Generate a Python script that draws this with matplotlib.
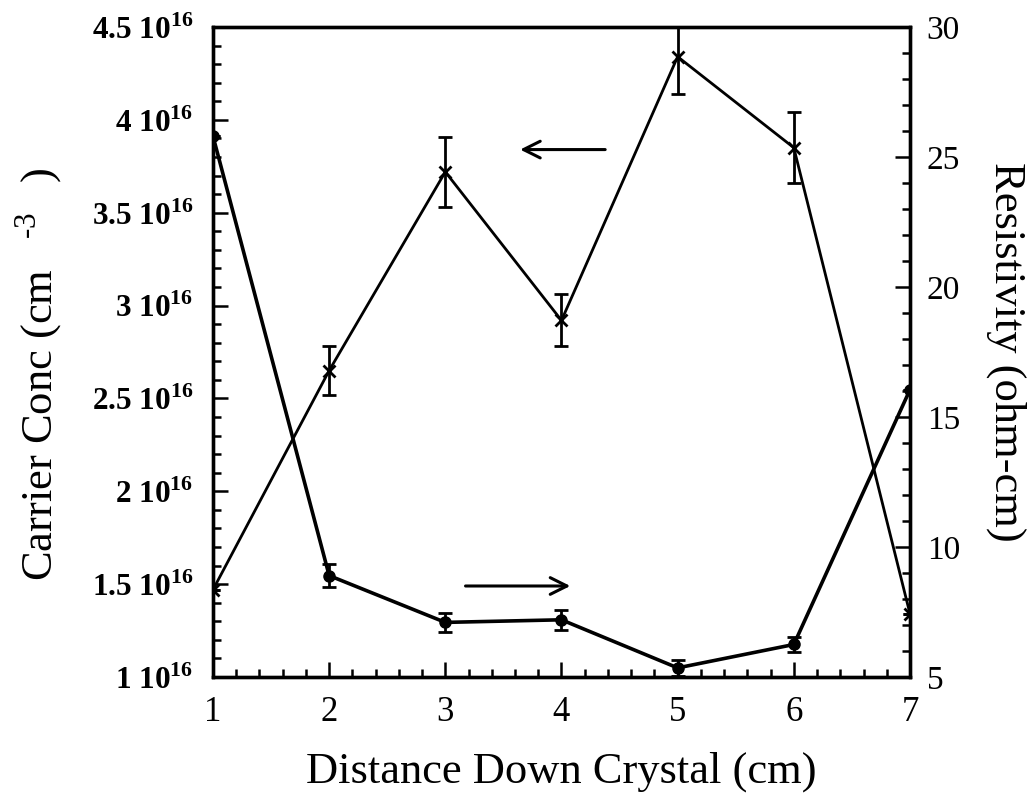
import matplotlib
matplotlib.use("Agg")
import matplotlib.pyplot as plt
from matplotlib.ticker import MultipleLocator, FixedLocator

plt.rcParams['font.family'] = ['Liberation Serif', 'DejaVu Serif']
plt.rcParams['mathtext.fontset'] = 'custom'
plt.rcParams['mathtext.rm'] = 'Liberation Serif'
plt.rcParams['mathtext.bf'] = 'Liberation Serif:bold'

# Measurements along the crystal
distance = [1, 2, 3, 4, 5, 6, 7]
carrier_conc = [1.47e16, 2.65e16, 3.72e16, 2.92e16, 4.34e16, 3.85e16, 1.34e16]
carrier_err = [0.0, 0.13e16, 0.19e16, 0.14e16, 0.20e16, 0.19e16, 0.0]
resistivity = [25.8, 8.9, 7.1, 7.2, 5.35, 6.25, 16.05]
resistivity_err = [0.0, 0.45, 0.38, 0.38, 0.3, 0.3, 0.0]

left_ticks = [1e16, 1.5e16, 2e16, 2.5e16, 3e16, 3.5e16, 4e16, 4.5e16]
left_labels = [r"1 10$^{\mathbf{16}}$", r"1.5 10$^{\mathbf{16}}$", r"2 10$^{\mathbf{16}}$",
               r"2.5 10$^{\mathbf{16}}$", r"3 10$^{\mathbf{16}}$", r"3.5 10$^{\mathbf{16}}$",
               r"4 10$^{\mathbf{16}}$", r"4.5 10$^{\mathbf{16}}$"]
right_ticks = [5, 10, 15, 20, 25, 30]

fig = plt.figure(figsize=(10.35, 7.99), dpi=100)
ax = fig.add_axes([0.2058, 0.1527, 0.6734, 0.8135])
ax2 = ax.twinx()

ax.errorbar(distance, carrier_conc, yerr=carrier_err, color='black', lw=2.0,
            marker='x', ms=8, mew=2, capsize=5, elinewidth=2, capthick=2)
ax2.errorbar(distance, resistivity, yerr=resistivity_err, color='black', lw=2.6,
             marker='o', ms=8, capsize=5, elinewidth=2, capthick=2)

ax.set_xlim(1, 7)
ax.set_ylim(1e16, 4.5e16)
ax2.set_ylim(5, 30)

ax.xaxis.set_major_locator(MultipleLocator(1))
ax.xaxis.set_minor_locator(MultipleLocator(0.2))
ax.yaxis.set_major_locator(FixedLocator(left_ticks))
ax.yaxis.set_minor_locator(MultipleLocator(0.1e16))
ax.set_yticklabels(left_labels, fontweight='bold', fontsize=22.5)
ax2.yaxis.set_major_locator(FixedLocator(right_ticks))
ax2.yaxis.set_minor_locator(MultipleLocator(1))

for a in (ax, ax2):
    for s in a.spines.values():
        s.set_linewidth(2.4)
    a.tick_params(which='both', direction='in', top=False, width=1.8)
    a.tick_params(which='major', length=11)
    a.tick_params(which='minor', length=5.5)
ax.tick_params(axis='x', labelsize=25, pad=14)
ax.tick_params(axis='y', pad=14)
ax2.tick_params(axis='y', labelsize=24, pad=12)

ax.set_xlabel("Distance Down Crystal (cm)", fontsize=32, labelpad=16)
ax.set_ylabel(r"Carrier Conc (cm$^{\ \ \ \text{-3}}\ \ $)", fontsize=32)
ax.yaxis.set_label_coords(-0.212, 0.465)
ax2.set_ylabel("Resistivity (ohm-cm)", fontsize=32, rotation=270, labelpad=48)

# Arrows pointing to each series' axis
ax.annotate("", xy=(3.62, 3.84e16), xytext=(4.4, 3.84e16),
            arrowprops=dict(arrowstyle='->', color='black', lw=2.2, mutation_scale=30))
ax2.annotate("", xy=(4.1, 8.5), xytext=(3.15, 8.5),
             arrowprops=dict(arrowstyle='->', color='black', lw=2.2, mutation_scale=30))

fig.savefig("out.png", dpi=100)
